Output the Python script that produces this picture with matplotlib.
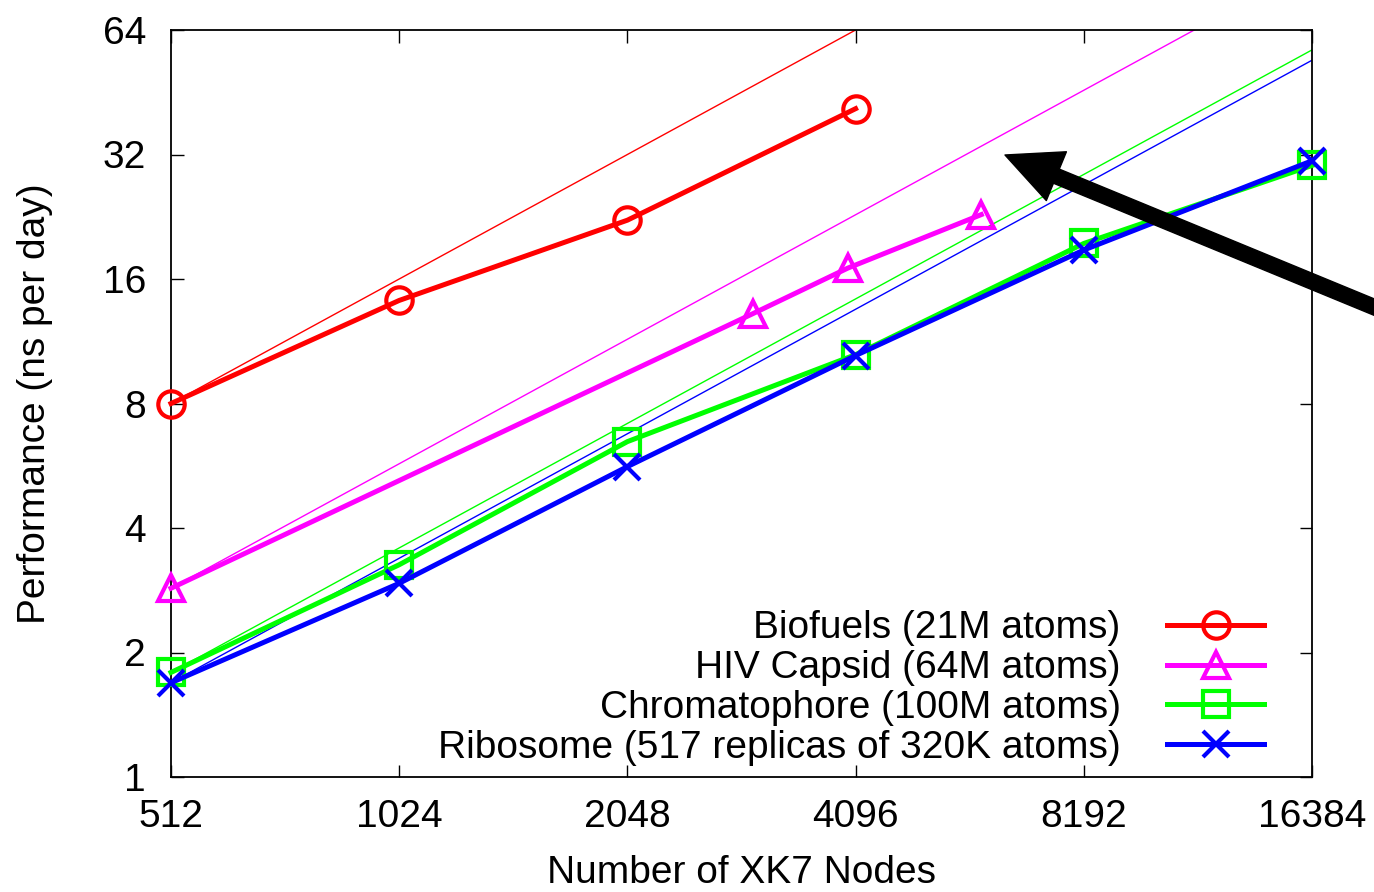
import numpy as np
import matplotlib
matplotlib.use("Agg")
import matplotlib.pyplot as plt

plt.rcParams['font.family'] = ['Liberation Sans', 'DejaVu Sans']

# measured performance (ns/day) vs XK7 node count
bio_nodes = [512, 1024, 2048, 4096]
bio_perf = [8.0, 14.2, 22.2, 41.3]

hiv_nodes = [512, 3000, 4000, 6000]
hiv_perf = [2.86, 13.2, 17.0, 22.9]

chrom_nodes = [512, 1024, 2048, 4096, 8192, 16384]
chrom_perf = [1.79, 3.26, 6.47, 10.5, 19.5, 30.1]

ribo_nodes = [512, 1024, 2048, 4096, 8192, 16384]
ribo_perf = [1.69, 2.94, 5.63, 10.45, 18.8, 30.9]

xticks = [512, 1024, 2048, 4096, 8192, 16384]
yticks = [1, 2, 4, 8, 16, 32, 64]

series = [
    ("Biofuels (21M atoms)", bio_nodes, bio_perf, "#ff0000", "o"),
    ("HIV Capsid (64M atoms)", hiv_nodes, hiv_perf, "#ff00ff", "^"),
    ("Chromatophore (100M atoms)", chrom_nodes, chrom_perf, "#00ff00", "s"),
    ("Ribosome (517 replicas of 320K atoms)", ribo_nodes, ribo_perf, "#0000ff", "x"),
]

fig = plt.figure(figsize=(13.74, 8.92), dpi=100)
ax = fig.add_axes([171 / 1374, 1 - 777 / 892, (1312 - 171) / 1374, (777 - 30) / 892])

ideal_x = np.array([512, 16384])
# thin ideal-scaling lines first
for label, nx, py, col, mk in series:
    ax.plot(ideal_x, py[0] * ideal_x / nx[0], color=col, lw=1.0)

for label, nx, py, col, mk in series:
    ax.plot(nx, py, color=col, lw=3.6, marker=mk, markersize=19,
            markerfacecolor='none', markeredgecolor=col, markeredgewidth=3.0,
            label=label, clip_on=False, zorder=3)

ax.set_xscale('log', base=2)
ax.set_yscale('log', base=2)
ax.set_xlim(512, 16384)
ax.set_ylim(1, 64)
ax.set_xticks(xticks)
ax.set_xticklabels([str(v) for v in xticks])
ax.set_yticks(yticks)
ax.set_yticklabels([str(v) for v in yticks])
ax.minorticks_off()
ax.tick_params(direction='in', length=9, width=1, top=True, right=True,
               labelsize=28)
ax.tick_params(axis='x', pad=16)
ax.tick_params(axis='y', pad=18)
for s in ax.spines.values():
    s.set_linewidth(1.3)

ax.set_xlabel("Number of XK7 Nodes", fontsize=28, labelpad=14)
ax.set_ylabel("Performance (ns per day)", fontsize=28, labelpad=36)

leg = ax.legend(loc='lower right', markerfirst=False, frameon=False,
                fontsize=28, handlelength=2.5, labelspacing=0.1,
                handletextpad=1.2, borderaxespad=0.0,
                bbox_to_anchor=(0.972, -0.006))

# big arrow
ax.annotate("", xy=(1005, 892 - 155), xycoords='figure pixels',
            xytext=(1420, 892 - 326), textcoords='figure pixels',
            arrowprops=dict(width=11, headwidth=38, headlength=40,
                            color='black', shrink=0),
            annotation_clip=False)

fig.savefig("out.png", dpi=100)
